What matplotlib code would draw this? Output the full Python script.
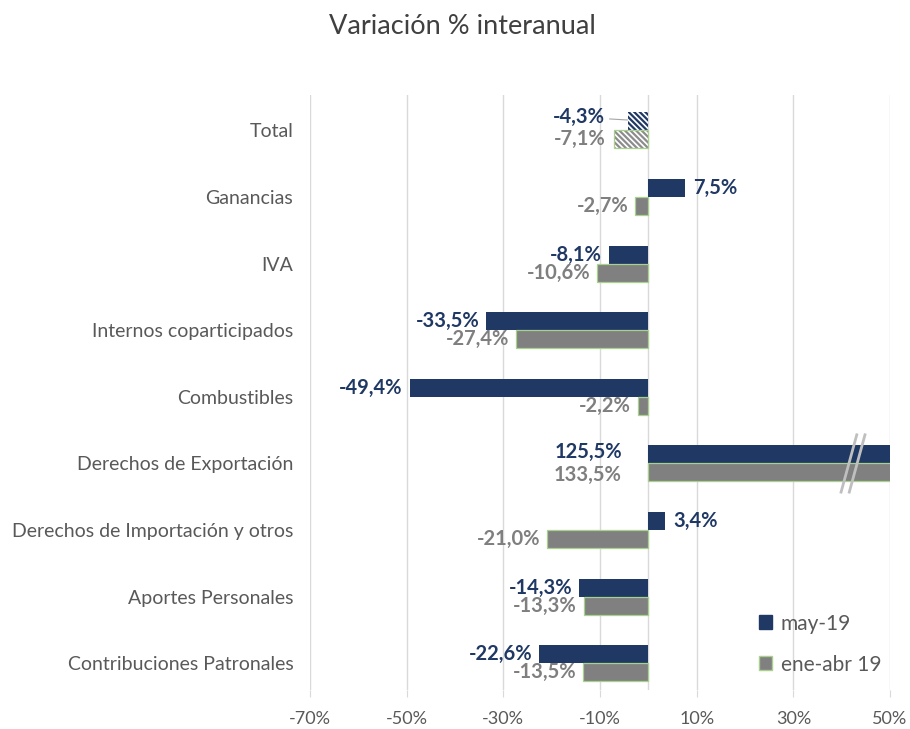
import matplotlib.pyplot as plt
from matplotlib.patches import Patch

plt.rcParams['font.family'] = ['Lato', 'DejaVu Sans']
plt.rcParams['hatch.linewidth'] = 1.6

categories = ["Total", "Ganancias", "IVA", "Internos coparticipados", "Combustibles",
              "Derechos de Exportación", "Derechos de Importación y otros",
              "Aportes Personales", "Contribuciones Patronales"]
may19 = [-4.3, 7.5, -8.1, -33.5, -49.4, 125.5, 3.4, -14.3, -22.6]
ene_abr19 = [-7.1, -2.7, -10.6, -27.4, -2.2, 133.5, -21.0, -13.3, -13.5]
xticks = [-70, -50, -30, -10, 10, 30, 50]

navy = "#1F3864"
gray = "#808080"
gray_txt = "#7F7F7F"
green = "#A9D18E"
txt = "#595959"

fig = plt.figure(figsize=(9.1, 7.29), dpi=100)
ax = fig.add_axes([310/910, 1-690/729, 580/910, 595/729])

h = 0.27
xmin, xmax = -70, 50
pos = list(range(len(categories)))
lab_fs = 14.5

for i, (a, b) in enumerate(zip(may19, ene_abr19)):
    if i == 0:
        ax.barh(i - h/2, a, h, color="white", edgecolor=navy, hatch="\\" * 6, lw=0.0)
        ax.barh(i + h/2, b, h, color="white", edgecolor="#8C8C8C", hatch="\\" * 6, lw=0.0)
        ax.barh(i + h/2, b, h, color="none", edgecolor=green, lw=0.9)
    else:
        ax.barh(i - h/2, a, h, color=navy, lw=0)
        ax.barh(i + h/2, b, h, color=gray, edgecolor=green, lw=0.9)


def fmt(v):
    return f"{v:.1f}%".replace(".", ",")


def label(v, y, color, dy=0):
    kw = dict(color=color, fontsize=lab_fs, fontweight="bold", va="center")
    if v > xmax:
        ax.annotate(fmt(v), (0, y), xytext=(-19, dy), textcoords="offset points", ha="right", **kw)
    elif v < 0:
        ax.annotate(fmt(v), (v, y), xytext=(-5, 0), textcoords="offset points", ha="right", **kw)
    else:
        ax.annotate(fmt(v), (v, y), xytext=(6, 0), textcoords="offset points", ha="left", **kw)


for i, (a, b) in enumerate(zip(may19, ene_abr19)):
    if i == 0:
        ax.annotate(fmt(a), (a, i - h/2 - 0.02), xytext=(-16, 2), textcoords="offset points",
                    ha="right", va="center", color=navy, fontsize=lab_fs, fontweight="bold",
                    arrowprops=dict(arrowstyle="-", color="#A6A6A6", lw=0.8,
                                    shrinkA=1, shrinkB=0))
        ax.annotate(fmt(b), (b, i + h/2), xytext=(-6, 0), textcoords="offset points",
                    ha="right", va="center", color=gray_txt, fontsize=lab_fs, fontweight="bold")
    else:
        label(a, i - h/2, navy, 1.5)
        label(b, i + h/2, gray_txt, -1.5)

# axis break marks on the clipped bars
ib = 5
for dx in (0, 1.7):
    ax.plot([39.8 + dx, 43.2 + dx], [ib + 0.45, ib - 0.45], color="#BFBFBF", lw=2,
            solid_capstyle="butt", zorder=5)

ax.set_xlim(xmin, xmax)
ax.set_ylim(8.4, -0.53)
ax.set_xticks(xticks)
ax.set_xticklabels([f"{t}%" for t in xticks])
ax.set_yticks(pos)
ax.set_yticklabels(categories)
ax.grid(axis="x", color="#D9D9D9", lw=1)
ax.set_axisbelow(True)
ax.axvline(0, color="#D9D9D9", lw=1, zorder=0)
for s in ax.spines.values():
    s.set_visible(False)
ax.tick_params(axis="y", length=0, pad=12, labelsize=14, labelcolor=txt)
ax.tick_params(axis="x", length=5, color="#D9D9D9", pad=10, labelsize=13, labelcolor=txt)

handles = [Patch(facecolor=navy, edgecolor=navy), Patch(facecolor=gray, edgecolor=green)]
fig.legend(handles, ["may-19", "ene-abr 19"], loc="upper left",
           bbox_to_anchor=(740/910, 1-595/729), frameon=False, fontsize=15,
           labelcolor=txt, handlelength=0.65, handleheight=0.65, handletextpad=0.4,
           labelspacing=1.0)

fig.suptitle("Variación % interanual", x=462/910, y=1-14/729, va="top",
             fontsize=19.5, color="#404040")

fig.savefig("out.png", dpi=100)
